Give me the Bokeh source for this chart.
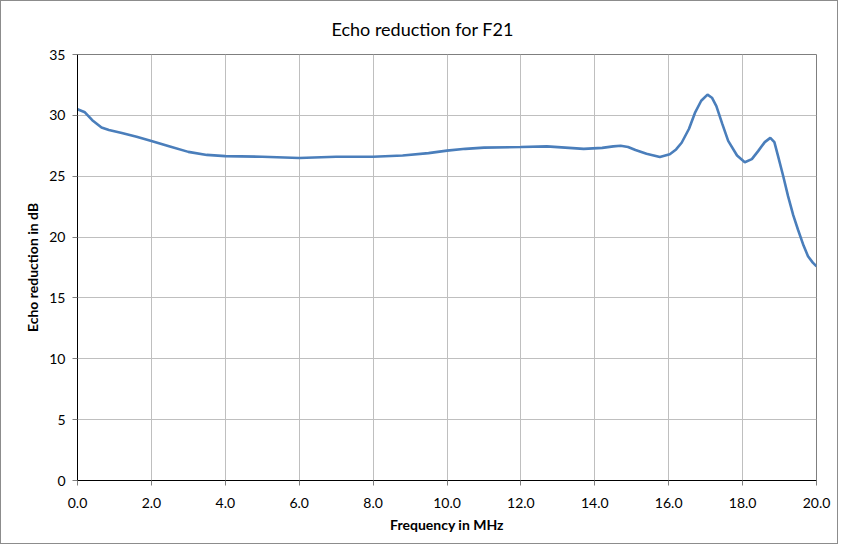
from bokeh.plotting import figure
from bokeh.models import Range1d, FixedTicker, NumeralTickFormatter, Title
from bokeh.embed import file_html
from bokeh.resources import INLINE

freq = [0.0, 0.2, 0.4, 0.65, 0.85, 1.2, 1.6, 2.0, 2.5, 3.0, 3.5, 4.0, 5.0, 6.0,
        7.0, 8.0, 8.8, 9.5, 10.0, 10.5, 11.0, 12.0, 12.7, 13.2, 13.7, 14.2, 14.5,
        14.7, 14.9, 15.1, 15.4, 15.76, 16.03, 16.2, 16.35, 16.55, 16.71, 16.88,
        17.05, 17.17, 17.29, 17.45, 17.61, 17.85, 18.06, 18.25, 18.42, 18.6,
        18.75, 18.86, 18.96, 19.1, 19.23, 19.37, 19.5, 19.65, 19.77, 19.9, 20.0]
echo_db = [30.5, 30.25, 29.6, 29.0, 28.8, 28.55, 28.25, 27.9, 27.45, 27.0, 26.75,
           26.65, 26.6, 26.5, 26.6, 26.6, 26.7, 26.9, 27.1, 27.25, 27.35, 27.4,
           27.45, 27.35, 27.25, 27.33, 27.45, 27.5, 27.4, 27.15, 26.85, 26.57,
           26.8, 27.2, 27.75, 28.9, 30.2, 31.2, 31.7, 31.45, 30.76, 29.3, 27.9,
           26.7, 26.15, 26.4, 27.06, 27.8, 28.15, 27.8, 26.65, 25.0, 23.36, 21.8,
           20.6, 19.3, 18.43, 17.9, 17.6]

x_ticks = [0, 2, 4, 6, 8, 10, 12, 14, 16, 18, 20]
y_ticks = [0, 5, 10, 15, 20, 25, 30, 35]
title_text = "Echo reduction for F21"

FONT = "Lato"

p = figure(width=838, height=544, output_backend="svg", toolbar_location=None,
           x_range=Range1d(0, 20), y_range=Range1d(0, 35),
           min_border_left=76, min_border_right=23, min_border_top=53,
           min_border_bottom=65, title=None,
           styles={"border": "1px solid #8c8c8c", "box-sizing": "border-box"})

p.add_layout(Title(text=title_text, align="left", offset=254,
                   text_font=FONT, text_font_size="18px", text_font_style="normal",
                   text_color="#000000", standoff=29), "above")

p.line(freq, echo_db, line_color="#4a7ebb", line_width=2.6)

p.xaxis.ticker = FixedTicker(ticks=x_ticks)
p.yaxis.ticker = FixedTicker(ticks=y_ticks)
p.xaxis.formatter = NumeralTickFormatter(format="0.0")
p.xaxis.axis_label = "Frequency in MHz"
p.yaxis.axis_label = "Echo reduction in dB"

for ax in (p.xaxis, p.yaxis):
    ax.axis_line_color = "#000000"
    ax.axis_line_width = 1
    ax.major_tick_line_color = "#7f7f7f"
    ax.major_tick_out = 5
    ax.major_tick_in = 0
    ax.minor_tick_line_color = None
    ax.major_label_text_font = FONT
    ax.major_label_text_font_size = "14px"
    ax.major_label_text_color = "#000000"
    ax.axis_label_text_font = FONT
    ax.axis_label_text_font_size = "14px"
    ax.axis_label_text_font_style = "bold"
    ax.axis_label_text_color = "#000000"

p.xaxis.major_label_standoff = 12
p.xaxis.axis_label_standoff = 5
p.yaxis.major_label_standoff = 7
p.yaxis.axis_label_standoff = 5

p.xgrid.ticker = FixedTicker(ticks=x_ticks)
p.ygrid.ticker = FixedTicker(ticks=y_ticks)
p.grid.grid_line_color = "#bfbfbf"
p.grid.grid_line_width = 1
p.outline_line_color = "#7f7f7f"
p.outline_line_width = 1
p.background_fill_color = "#ffffff"
p.border_fill_color = "#ffffff"

open("out.html", "w").write(file_html(p, INLINE))
